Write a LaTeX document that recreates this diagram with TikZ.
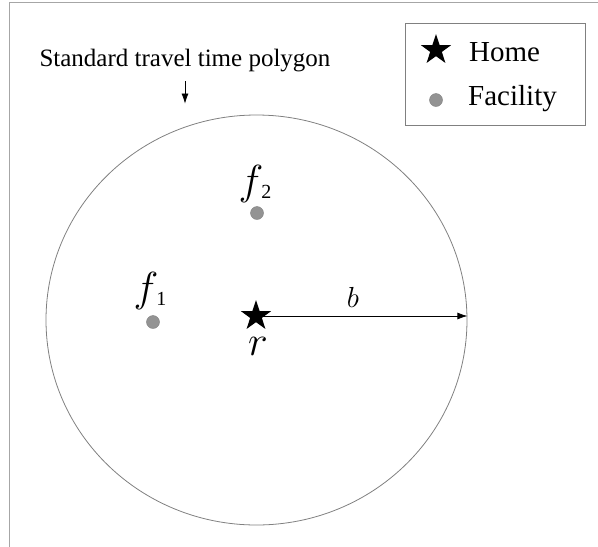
\documentclass[tikz,border=0pt]{standalone}
\usepackage{fix-cm}
\usepackage{fontspec}
\setmainfont{Liberation Serif}
\usetikzlibrary{shapes.geometric,arrows.meta}

\newcommand{\flab}[1]{$f$\kern-2pt\raisebox{-4pt}{\fontsize{20}{20}\selectfont #1}}

\begin{document}
\begin{tikzpicture}[x=1pt, y=-1pt]
  \tikzset{
    home_node/.style={star, star points=5, star point ratio=2.6, fill=black, inner sep=0pt, minimum size=32pt},
    fac_node/.style={circle, fill=gray!85, draw=gray, line width=0.4pt, inner sep=0pt, minimum size=13pt},
    math_node/.style={inner sep=0pt, font=\fontsize{42}{42}\selectfont},
    text_node/.style={inner sep=0pt, font=\fontsize{29}{29}\selectfont},
    arrow_line/.style={-{Latex[length=10pt, width=7pt]}, line width=0.7pt}
  }
  \useasboundingbox (0,0) rectangle (598,547);

  % Marco
  \draw[gray!70, line width=1pt] (9,547) -- (9,2) -- (598,2);

  % Poligono de tiempo de viaje
  \node[ellipse, draw=gray, line width=0.8pt, inner sep=0pt, minimum width=421pt, minimum height=410pt] (poly) at (256.5,320) {};
  \node[inner sep=0pt, font=\fontsize{25}{25}\selectfont] (title) at (185,61) {Standard travel time polygon};
  \coordinate (arrstart) at (185,81);
  \draw[arrow_line, shorten >=11pt] (arrstart) -- (arrstart |- poly.north);

  % Hogar y servicios
  \node[home_node] (home) at (256,316) {};
  \node[fac_node] (f1) at (153,322) {};
  \node[fac_node] (f2) at (257,213) {};

  % Etiquetas
  \node[math_node] (f1lab) at (150,291) {\flab{1}};
  \node[math_node] (f2lab) at (255,184) {\flab{2}};
  \node[math_node] (rlab) at (258,346) {$r$};
  \node[math_node, font=\fontsize{29}{29}\selectfont] (blab) at (353,297) {$b$};

  % Radio b
  \draw[arrow_line] (home.center) -- (home -| poly.east);

  % Leyenda
  \node[draw=gray, line width=0.8pt, minimum width=180pt, minimum height=102pt] (legend) at (495,74) {};
  \node[home_node] (legstar) at (436,50) {};
  \node[text_node, anchor=west] (hometext) at (469,52) {Home};
  \node[fac_node] (legdot) at (436,100) {};
  \node[text_node, anchor=west] (factext) at (468,99) {Facility};
\end{tikzpicture}
\end{document}
